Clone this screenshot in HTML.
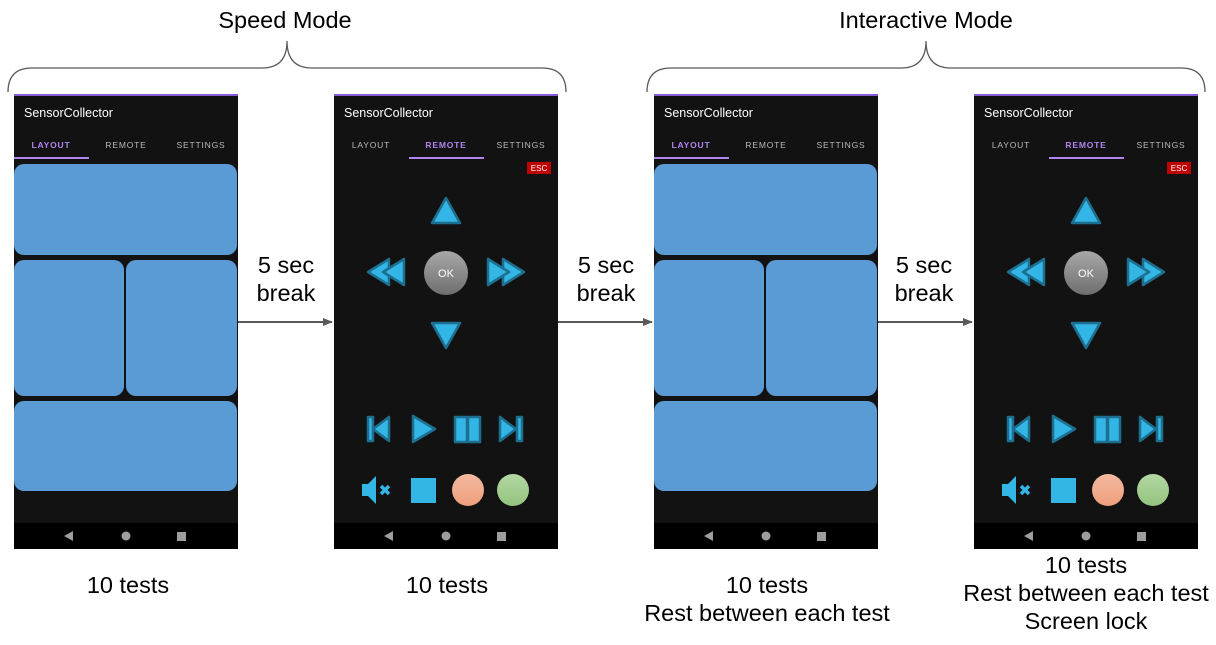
<!DOCTYPE html>
<html><head><meta charset="utf-8"><style>html,body{margin:0;padding:0;background:#fff}svg{display:block}</style></head>
<body>
<svg width="1216" height="645" viewBox="0 0 1216 645" xmlns="http://www.w3.org/2000/svg" font-family="Liberation Sans, Arial, sans-serif">
<defs>
<linearGradient id="okg" x1="0" y1="0" x2="0" y2="1"><stop offset="0" stop-color="#a8a8a8"/><stop offset="1" stop-color="#6e6e6e"/></linearGradient>
<linearGradient id="pg" x1="0" y1="0" x2="0" y2="1"><stop offset="0" stop-color="#f4b9a0"/><stop offset="1" stop-color="#ef9e7c"/></linearGradient>
<linearGradient id="gg" x1="0" y1="0" x2="0" y2="1"><stop offset="0" stop-color="#b4d7a4"/><stop offset="1" stop-color="#93c47d"/></linearGradient>
<g id="frame">
<rect x="14" y="94" width="224" height="455" fill="#121212"/>
<rect x="14" y="94" width="224" height="2" fill="#8a5cd6"/>
<text x="24" y="117" font-size="12.5" fill="#fff">SensorCollector</text>
<rect x="14" y="523" width="224" height="26" fill="#000"/>
<polygon points="64,536 73,531 73,541" fill="#9e9e9e"/>
<circle cx="126" cy="536" r="4.5" fill="#9e9e9e"/>
<rect x="177" y="532" width="9" height="9" fill="#9e9e9e"/>
</g>
<g id="layout">
<use href="#frame"/>
<text x="51" y="148" font-size="8.5" font-weight="bold" letter-spacing="0.8" fill="#b085f0" text-anchor="middle">LAYOUT</text>
<text x="126" y="148" font-size="8.5" letter-spacing="0.8" fill="#bbb" text-anchor="middle">REMOTE</text>
<text x="201" y="148" font-size="8.5" letter-spacing="0.8" fill="#bbb" text-anchor="middle">SETTINGS</text>
<rect x="14" y="157" width="75" height="2" fill="#b085f0"/>
<rect x="14" y="164" width="223" height="91" rx="10" fill="#5b9bd5"/>
<rect x="14" y="260" width="110" height="136" rx="10" fill="#5b9bd5"/>
<rect x="126" y="260" width="111" height="136" rx="10" fill="#5b9bd5"/>
<rect x="14" y="401" width="223" height="90" rx="10" fill="#5b9bd5"/>
</g>
<g id="remote">
<use href="#frame"/>
<text x="51" y="148" font-size="8.5" letter-spacing="0.8" fill="#bbb" text-anchor="middle">LAYOUT</text>
<text x="126" y="148" font-size="8.5" font-weight="bold" letter-spacing="0.8" fill="#b085f0" text-anchor="middle">REMOTE</text>
<text x="201" y="148" font-size="8.5" letter-spacing="0.8" fill="#bbb" text-anchor="middle">SETTINGS</text>
<rect x="89" y="157" width="75" height="2" fill="#b085f0"/>
<rect x="207" y="162" width="24" height="12" fill="#c00000"/>
<text x="219" y="171" font-size="8" fill="#fff" text-anchor="middle">ESC</text>
<g fill="#33b5e5" stroke="#1e6f8f" stroke-width="2.5" stroke-linejoin="round">
<polygon points="126,198 140,223 112,223"/>
<polygon points="126,348 140,323 112,323"/>
<polygon points="48,272 69,259 69,285"/>
<polygon points="63,272 84,259 84,285"/>
<polygon points="204,272 183,259 183,285"/>
<polygon points="189,272 168,259 168,285"/>
<rect x="48" y="417" width="5" height="24"/>
<polygon points="53,429 69,417 69,441"/>
<polygon points="93,416 115,429 93,442"/>
<rect x="135" y="417" width="12" height="25"/>
<rect x="148" y="417" width="12" height="25"/>
<polygon points="196,429 180,417 180,441"/>
<rect x="197" y="417" width="5" height="24"/>
</g>
<circle cx="126" cy="273" r="22" fill="url(#okg)"/>
<text x="126" y="277" font-size="11" fill="#fff" text-anchor="middle">OK</text>
<polygon points="42,484 48,484 56,476 56,504 48,496 42,496" fill="#33b5e5"/>
<path d="M61,486 L69,494 M69,486 L61,494" stroke="#33b5e5" stroke-width="3.5"/>
<rect x="91" y="478" width="25" height="25" fill="#33b5e5"/>
<circle cx="148" cy="490" r="16" fill="url(#pg)"/>
<circle cx="193" cy="490" r="16" fill="url(#gg)"/>
</g>
<marker id="ar" markerWidth="10" markerHeight="8" refX="9" refY="4" orient="auto" markerUnits="userSpaceOnUse"><polygon points="0,0 10,4 0,8" fill="#595959"/></marker>
</defs>

<use href="#layout"/>
<use href="#remote" x="320"/>
<use href="#layout" x="640"/>
<use href="#remote" x="960"/>

<g fill="none" stroke="#595959" stroke-width="1.3">
<path d="M8,92 Q8,68 32,68 L262,68 Q287,68 287,41 Q287,68 312,68 L542,68 Q566,68 566,92"/>
<path d="M647,92 Q647,68 671,68 L901,68 Q926,68 926,41 Q926,68 951,68 L1181,68 Q1205,68 1205,92"/>
<line x1="238" y1="322" x2="332" y2="322" stroke-width="2" marker-end="url(#ar)"/>
<line x1="558" y1="322" x2="652" y2="322" stroke-width="2" marker-end="url(#ar)"/>
<line x1="878" y1="322" x2="972" y2="322" stroke-width="2" marker-end="url(#ar)"/>
</g>

<g font-size="23.5" fill="#000" text-anchor="middle">
<text x="285" y="28">Speed Mode</text>
<text x="926" y="28">Interactive Mode</text>
<text x="286" y="273">5 sec</text><text x="286" y="301">break</text>
<text x="606" y="273">5 sec</text><text x="606" y="301">break</text>
<text x="924" y="273">5 sec</text><text x="924" y="301">break</text>
<text x="128" y="593">10 tests</text>
<text x="447" y="593">10 tests</text>
<text x="767" y="593">10 tests</text>
<text x="767" y="621">Rest between each test</text>
<text x="1086" y="573">10 tests</text>
<text x="1086" y="601">Rest between each test</text>
<text x="1086" y="629">Screen lock</text>
</g>
</svg>
</body></html>
